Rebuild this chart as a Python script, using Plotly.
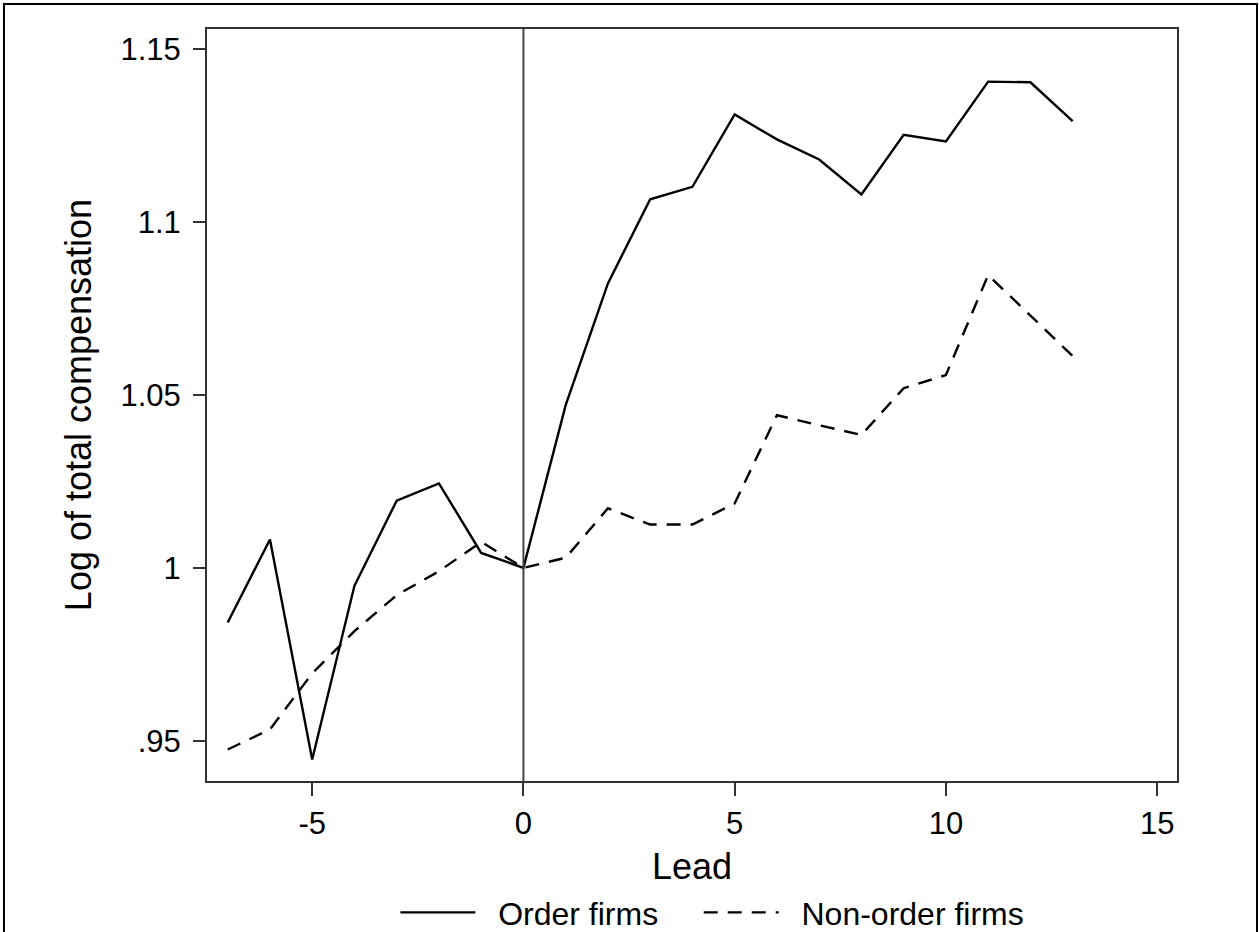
import plotly.graph_objects as go

lead = [-7, -6, -5, -4, -3, -2, -1, 0, 1, 2, 3, 4, 5, 6, 7, 8, 9, 10, 11, 12, 13]
order_firms = [0.9842, 1.0082, 0.9446, 0.9948, 1.0194, 1.0244, 1.0043, 1.0000,
               1.0470, 1.0822, 1.1065, 1.1101, 1.1310, 1.1238, 1.1180, 1.1079,
               1.1251, 1.1232, 1.1405, 1.1403, 1.1291]
non_order_firms = [0.9475, 0.9533, 0.9695, 0.9817, 0.9921, 0.9990, 1.0075, 1.0000,
                   1.0029, 1.0172, 1.0125, 1.0125, 1.0186, 1.0441, 1.0412, 1.0384,
                   1.0519, 1.0557, 1.0846, 1.0730, 1.0612]

x_ticks = [-5, 0, 5, 10, 15]
x_tick_labels = ["-5", "0", "5", "10", "15"]
y_ticks = [0.95, 1.0, 1.05, 1.1, 1.15]
y_tick_labels = [".95", "1", "1.05", "1.1", "1.15"]

FONT = "Liberation Sans, Arial, sans-serif"
NB = "\u00a0"

fig = go.Figure()
fig.add_trace(go.Scatter(x=lead, y=order_firms, mode="lines",
                         name=NB * 2 + "Order firms" + NB * 4,
                         line=dict(color="black", width=2.4)))
fig.add_trace(go.Scatter(x=lead, y=non_order_firms, mode="lines",
                         name=NB * 2 + "Non-order firms",
                         line=dict(color="black", width=2.4, dash="14px,10px")))

# vertical reference line at 0
fig.add_shape(type="line", xref="x", yref="paper", x0=0, x1=0, y0=0, y1=1,
              line=dict(color="#444444", width=2))
# outer border of the graph region
fig.add_shape(type="rect", xref="paper", yref="paper",
              x0=-0.2093, x1=1.0825, y0=-0.212, y1=1.0332,
              line=dict(color="black", width=2), layer="above")

fig.update_layout(
    width=1259, height=932,
    margin=dict(l=207, r=82, t=29, b=151, autoexpand=False),
    paper_bgcolor="white", plot_bgcolor="white",
    font=dict(family=FONT, color="black", size=30),
    showlegend=True,
    legend=dict(orientation="h", x=0.521, xanchor="center", y=-0.175, yanchor="middle",
                font=dict(size=32), itemwidth=75, bgcolor="rgba(0,0,0,0)"),
)
fig.update_xaxes(range=[-7.49, 15.47], tickvals=x_ticks, ticktext=x_tick_labels,
                 ticks="outside", ticklen=13,
                 tickwidth=1.5, tickcolor="#333333", showgrid=False, zeroline=False,
                 showline=True, linecolor="#333333", linewidth=2, mirror=True,
                 tickfont=dict(size=31), ticklabelstandoff=1, automargin=False,
                 title=dict(text="Lead", font=dict(size=36), standoff=14))
fig.update_yaxes(range=[0.9384, 1.1557], tickvals=y_ticks, ticktext=y_tick_labels,
                 ticks="outside", ticklen=12, tickwidth=1.5, tickcolor="#333333",
                 showgrid=False, zeroline=False, showline=True, linecolor="#333333",
                 linewidth=2, mirror=True, tickfont=dict(size=31), ticklabelstandoff=6,
                 automargin=False,
                 title=dict(text="Log of total compensation", font=dict(size=36), standoff=18))

fig.write_html("out.html", config={"displayModeBar": False},
               post_script="document.body.style.margin='0';")
